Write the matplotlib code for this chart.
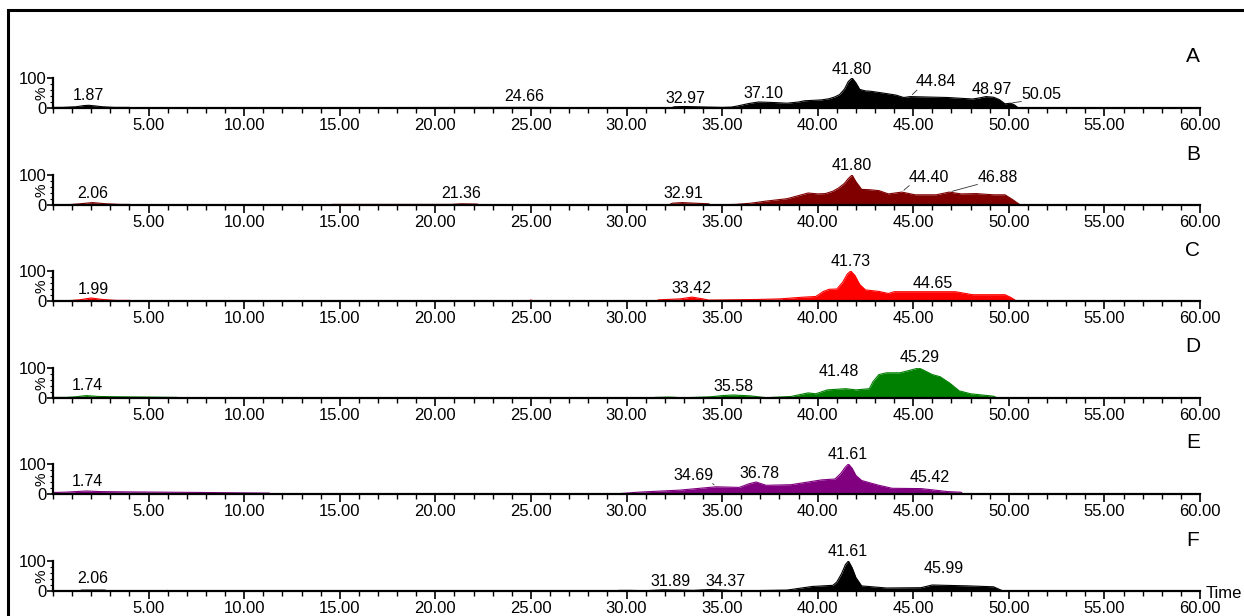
import matplotlib
matplotlib.use("Agg")
import matplotlib.pyplot as plt
from matplotlib.ticker import MultipleLocator, FixedLocator, FuncFormatter
from matplotlib.lines import Line2D

plt.rcParams['font.family'] = ['Liberation Sans', 'DejaVu Sans']

# ---------------- data ----------------
panel_names = ["A", "B", "C", "D", "E", "F"]
panel_colors = ["#000000", "#800000", "#ff0000", "#008000", "#800080", "#000000"]

time_A = [0, 0.5, 1.2, 1.6, 1.87, 2.2, 2.6, 3.2, 4.0, 4.05, 18.0, 18.1, 24.66, 26.5, 26.6,
          32.3, 32.5, 33.0, 34.3, 35.0, 35.5, 35.9, 36.4, 36.9, 37.4, 37.8, 38.4, 39.0, 39.3,
          40.2, 40.6, 40.9, 41.15, 41.4, 41.6, 41.8, 42.0, 42.2, 42.5, 42.75, 43.4, 43.8,
          44.1, 44.5, 44.84, 46.8, 48.1, 48.5, 48.8, 49.2, 49.5, 49.8, 50.1, 50.3, 50.5, 60]
int_A = [2, 2, 4, 8, 9, 7, 4, 2, 2, 0, 0, 1.5, 2, 1.5, 0,
         0, 4, 5, 3, 2, 3, 8, 15, 20, 19, 18, 16, 20, 24,
         27, 31, 37, 45, 63, 88, 100, 84, 62, 57, 56, 50, 46,
         43, 35, 38, 35, 30, 34, 38, 36, 28, 14, 16, 10, 0, 0]

time_B = [0, 0.8, 1.4, 2.06, 2.8, 3.5, 4.0, 4.05, 14.5, 14.6, 20.8, 21.36, 22.2, 22.3,
          32.2, 32.4, 32.91, 33.6, 34.3, 34.4, 35.7, 36.5, 37.3, 38.4, 39.5, 40.0, 40.4,
          40.8, 41.1, 41.4, 41.6, 41.8, 42.0, 42.3, 42.7, 43.2, 43.7, 44.4, 45.1, 46.2,
          46.88, 47.5, 48.3, 49.2, 49.8, 50.2, 50.6, 60]
int_B = [1, 1, 4, 8, 4, 2, 2, 0, 0, 2, 2, 4, 3, 0,
         0, 6, 8, 6, 4, 0, 2, 6, 13, 21, 40, 37, 38,
         46, 57, 72, 88, 100, 78, 52, 51, 48, 37, 43, 34, 34,
         43, 37, 38, 34, 34, 18, 0, 0]

time_C = [0, 0.8, 1.4, 1.99, 2.6, 3.3, 4.0, 4.05, 24.8, 25.0, 25.2,
          31.5, 31.7, 32.8, 33.42, 34.0, 34.3, 36.8, 38.0, 39.3, 39.9, 40.3, 40.6, 41.0,
          41.3, 41.55, 41.73, 41.95, 42.2, 42.5, 43.2, 43.7, 44.0, 44.65, 47.2, 48.1,
          49.8, 50.1, 50.4, 60]
int_C = [1, 1, 4, 10, 5, 2, 2, 0, 0, 3, 0,
         0, 4, 7, 13, 7, 3, 5, 7, 13, 15, 32, 39, 40,
         62, 90, 100, 85, 55, 37, 32, 25, 31, 31, 31, 21,
         21, 12, 0, 0]

time_D = [0, 0.7, 1.2, 1.74, 2.4, 3.5, 5.0, 6.5, 6.6,
          31.3, 31.5, 32.2, 32.6, 32.7, 34.4, 35.0, 35.58, 36.5, 37.3, 38.6, 39.5, 39.9,
          40.5, 41.48, 42.0, 42.7, 42.9, 43.2, 43.6, 44.3, 44.8, 45.29, 45.5, 46.0, 46.4,
          46.9, 47.4, 48.0, 49.2, 49.4, 60]
int_D = [2, 2, 4, 8, 5, 4, 3, 2, 0,
         0, 2, 3, 2, 0, 4, 8, 10, 7, 1, 5, 17, 14,
         27, 31, 27, 31, 55, 78, 84, 84, 92, 100, 94, 78, 71,
         50, 24, 14, 6, 0, 0]

time_E = [0, 0.6, 1.2, 1.74, 2.5, 4.0, 6.0, 8.0, 9.5, 11.3, 11.4,
          29.4, 30.6, 32.8, 34.69, 35.9, 36.4, 36.78, 37.3, 38.6, 40.2, 40.9, 41.2, 41.45,
          41.61, 41.8, 42.0, 42.3, 42.8, 43.2, 43.9, 45.42, 46.8, 47.5, 47.6, 60]
int_E = [5, 6, 8, 10, 8, 7, 6, 5, 4, 3, 0,
         0, 6, 13, 24, 22, 34, 40, 29, 31, 47, 50, 68, 90,
         100, 86, 62, 45, 36, 29, 19, 18, 8, 6, 0, 0]

time_F = [0, 1.4, 1.5, 2.06, 2.7, 2.8, 4.7, 4.75, 5.9, 6.0, 6.1,
          29.5, 29.6, 30.2, 31.0, 31.89, 32.8, 33.5, 34.37, 35.4, 35.5,
          38.4, 39.7, 40.8, 41.0, 41.25, 41.45, 41.61, 41.8, 42.0, 42.3, 43.6, 45.4,
          45.99, 47.9, 49.2, 49.7, 60]
int_F = [1, 1, 3, 3, 3, 1.5, 1.5, 0, 0, 2, 0,
         0, 2, 2, 1, 4, 3, 2, 5, 2, 0,
         3, 15, 19, 30, 58, 88, 100, 78, 45, 17, 10, 11,
         20, 17, 14, 0, 0]

series_time = [time_A, time_B, time_C, time_D, time_E, time_F]
series_int = [int_A, int_B, int_C, int_D, int_E, int_F]

# peak labels: text, label x (min), label y (%), anchor peak (time, %) or None
labels_A = [("1.87", 1.87, 40, None), ("24.66", 24.66, 37, None), ("32.97", 33.1, 33, None),
            ("37.10", 37.15, 48, None), ("41.80", 41.8, 130, None),
            ("44.84", 46.2, 88, (44.84, 38)), ("48.97", 49.1, 62, None),
            ("50.05", 51.7, 45, (50.05, 16))]
labels_B = [("2.06", 2.06, 40, None), ("21.36", 21.36, 37, None), ("32.91", 33.0, 40, None),
            ("41.80", 41.8, 132, None), ("44.40", 45.8, 93, (44.4, 43)),
            ("46.88", 49.4, 93, (46.88, 43))]
labels_C = [("1.99", 2.1, 40, None), ("33.42", 33.42, 43, None), ("41.73", 41.73, 132, None),
            ("44.65", 46.0, 60, None)]
labels_D = [("1.74", 1.8, 40, None), ("35.58", 35.58, 37, None), ("41.48", 41.1, 87, None),
            ("45.29", 45.35, 135, None)]
labels_E = [("1.74", 1.8, 43, None), ("34.69", 33.5, 63, (34.69, 24)), ("36.78", 36.95, 68, None),
            ("41.61", 41.55, 132, None), ("45.42", 45.85, 55, None)]
labels_F = [("2.06", 2.06, 43, None), ("31.89", 32.3, 32, None), ("34.37", 35.2, 32, None),
            ("41.61", 41.55, 133, None), ("45.99", 46.6, 75, None)]
series_labels = [labels_A, labels_B, labels_C, labels_D, labels_E, labels_F]

major_ticks = [5, 10, 15, 20, 25, 30, 35, 40, 45, 50, 55, 60]

# ---------------- layout ----------------
W, H = 1244, 616
fig = plt.figure(figsize=(W / 100, H / 100), dpi=100)
baselines = [108, 205, 301, 398, 494, 591]
x0_px, x60_px = 53, 1200
ax_h_px = 30
FS_TICK = 12
FS_LAB = 11.5

for i, name in enumerate(panel_names):
    b = baselines[i]
    ax = fig.add_axes([x0_px / W, (H - b) / H, (x60_px - x0_px) / W, ax_h_px / H])
    col = panel_colors[i]
    t = series_time[i]
    y = series_int[i]
    ax.fill_between(t, 0, y, color=col, lw=0)
    ax.plot(t, y, color=col, lw=0.8)
    ax.set_xlim(0, 60)
    ax.set_ylim(0, 100)
    for s in ("top", "right"):
        ax.spines[s].set_visible(False)
    for s in ("left", "bottom"):
        ax.spines[s].set_linewidth(1.6)
        ax.spines[s].set_zorder(5)
    ax.xaxis.set_major_locator(FixedLocator(major_ticks))
    ax.xaxis.set_major_formatter(FuncFormatter(lambda v, p: "%.2f" % v))
    ax.xaxis.set_minor_locator(MultipleLocator(1))
    ax.yaxis.set_major_locator(FixedLocator([0, 100]))
    ax.yaxis.set_major_formatter(FuncFormatter(lambda v, p: "%d" % v))
    ax.yaxis.set_minor_locator(MultipleLocator(20))
    ax.tick_params(axis="x", which="major", direction="out", length=6, width=1.2,
                   labelsize=FS_TICK, pad=1)
    ax.tick_params(axis="x", which="minor", direction="out", length=3.5, width=1)
    ax.tick_params(axis="y", which="major", direction="out", length=4, width=1.2,
                   labelsize=FS_TICK, pad=0.5)
    ax.tick_params(axis="y", which="minor", direction="out", length=2.5, width=0.8)
    ax.set_ylabel("%", fontsize=11, labelpad=-4)
    ax.yaxis.set_label_coords(-0.004, 0.5)
    ax.patch.set_alpha(0)

    for txt, lx, ly, anchor in series_labels[i]:
        ax.text(lx, ly, txt, fontsize=FS_LAB, ha="center", va="center", clip_on=False)
        if anchor is not None:
            ax.annotate("", xy=anchor, xytext=(lx - 0.9 if lx > anchor[0] else lx + 0.9, ly - 22),
                        arrowprops=dict(arrowstyle="-", lw=0.6, color="#333333"),
                        annotation_clip=False)

    fig.text(1193 / W, 1 - (b - 51) / H, name, fontsize=15, ha="center", va="center")

# Time label
fig.text(1206 / W, 1 - 594 / H, "Time", fontsize=FS_TICK, ha="left", va="center")

# frame lines top/left
fig.add_artist(Line2D([8 / W, 8 / W], [0, 1 - 10 / H], transform=fig.transFigure,
                      color="black", lw=2.2, solid_capstyle="butt"))
fig.add_artist(Line2D([8 / W, 1], [1 - 10 / H, 1 - 10 / H], transform=fig.transFigure,
                      color="black", lw=2.2, solid_capstyle="projecting"))

fig.savefig("out.png", dpi=100)
